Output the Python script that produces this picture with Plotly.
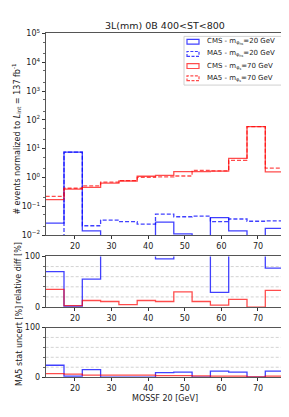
import plotly.graph_objects as go

edges = [12, 17, 22, 27, 32, 37, 42, 47, 52, 57, 62, 67, 72, 77]

cms_20 = [0.026, 7.6, 0.014, 0, 0, 0, 0.028, 0.011, 0, 0.040, 0.014, 0, 0.017]
ma5_20 = [0.008, 7.6, 0.021, 0.033, 0.029, 0.024, 0.053, 0.043, 0.045, 0.029, 0.036, 0.030, 0.031]
cms_70 = [0.17, 0.39, 0.45, 0.63, 0.75, 1.1, 1.17, 1.6, 1.6, 1.65, 4.6, 58, 1.56]
ma5_70 = [0.22, 0.42, 0.51, 0.69, 0.77, 1.0, 1.05, 1.12, 1.75, 1.7, 3.9, 58, 2.1]

reldiff_20 = [70, 2, 55, 200, 200, 200, 95, 200, 200, 29, 200, 200, 77]
reldiff_70 = [35, 3, 13, 11, 5, 13, 11, 30, 11, 4, 15, 0, 33]

uncert_20 = [24, 2, 15, 0, 0, 0, 9, 10, 0, 12, 10, 0, 12]
uncert_70 = [7, 6, 4, 4, 4, 4, 3, 3, 2.5, 2, 2, 0.5, 2]

log_ticks = [0.01, 0.1, 1, 10, 100, 1000, 10000, 100000]
log_ticktext = ["10<sup>−2</sup>", "10<sup>−1</sup>", "10<sup>0</sup>", "10<sup>1</sup>",
                "10<sup>2</sup>", "10<sup>3</sup>", "10<sup>4</sup>", "10<sup>5</sup>"]

labels = ["CMS - m<sub>φ<sub>hs</sub></sub>=20 GeV", "MA5 - m<sub>φ<sub>hs</sub></sub>=20 GeV",
          "CMS - m<sub>φ<sub>s</sub></sub>=70 GeV", "MA5 - m<sub>φ<sub>s</sub></sub>=70 GeV"]

BLUE = "rgba(0,0,255,0.75)"
RED = "rgba(255,0,0,0.7)"
DASH = "4px,2px"
FONT = "DejaVu Sans"
W, H = 289, 417


def px_x(p):
    return p / W


def px_y(p):
    return 1 - p / H


fig = go.Figure()


def step(vals, log=False):
    ys = [(v if v > 0 else 1e-9) if log else v for v in vals]
    return list(edges), ys + [ys[-1]]


series_main = [(cms_20, BLUE, "solid"), (ma5_20, BLUE, DASH), (cms_70, RED, "solid"), (ma5_70, RED, DASH)]
for vals, col, dash in series_main:
    x, y = step(vals, log=True)
    fig.add_trace(go.Scatter(x=x, y=y, mode="lines", line=dict(color=col, width=1.3, dash=dash, shape="hv"),
                             showlegend=False, xaxis="x", yaxis="y"))

for vals, col in [(reldiff_20, BLUE), (reldiff_70, RED)]:
    x, y = step(vals)
    fig.add_trace(go.Scatter(x=x, y=y, mode="lines", line=dict(color=col, width=1.3, shape="hv"),
                             showlegend=False, xaxis="x2", yaxis="y2"))

for vals, col in [(uncert_20, BLUE), (uncert_70, RED)]:
    x, y = step(vals)
    fig.add_trace(go.Scatter(x=x, y=y, mode="lines", line=dict(color=col, width=1.3, shape="hv"),
                             showlegend=False, xaxis="x3", yaxis="y3"))

xd = [px_x(37.7), px_x(275.6)]
axcommon = dict(range=[12, 77], showline=True, mirror=True, linecolor="#555", linewidth=1,
                ticks="outside", ticklen=3, tickcolor="#333", tickvals=[20, 30, 40, 50, 60, 70],
                tickfont=dict(size=8, family=FONT, color="#222"), showgrid=False, zeroline=False, domain=xd)

fig.update_layout(
    width=W, height=H, margin=dict(l=0, r=0, t=0, b=0),
    paper_bgcolor="white", plot_bgcolor="white",
    font=dict(family=FONT, size=8, color="#222"),
    xaxis=dict(**axcommon, anchor="y"),
    xaxis2=dict(**axcommon, anchor="y2"),
    xaxis3=dict(**axcommon, anchor="y3"),
    yaxis=dict(type="log", range=[-2, 5], domain=[px_y(227), px_y(20)], showline=True, mirror=True,
               linecolor="#555", ticks="outside", ticklen=3, tickcolor="#333",
               tickvals=log_ticks, ticktext=log_ticktext,
               minor=dict(ticks="outside", ticklen=2, tickcolor="#666", showgrid=False),
               tickfont=dict(size=8, family=FONT, color="#222"), showgrid=False, zeroline=False, anchor="x"),
    yaxis2=dict(range=[0, 100], domain=[px_y(301), px_y(249)], showline=True, mirror=True, linecolor="#555",
                ticks="outside", ticklen=3, tickcolor="#333", tickvals=[0, 100],
                minor=dict(ticks="outside", ticklen=2, tickcolor="#666", tickvals=[20, 40, 60, 80]),
                showgrid=False, zeroline=False, anchor="x2", tickfont=dict(size=8, family=FONT, color="#222")),
    yaxis3=dict(range=[0, 100], domain=[px_y(373), px_y(322)], showline=True, mirror=True, linecolor="#555",
                ticks="outside", ticklen=3, tickcolor="#333", tickvals=[0, 100],
                minor=dict(ticks="outside", ticklen=2, tickcolor="#666", tickvals=[20, 40, 60, 80]),
                showgrid=False, zeroline=False, anchor="x3", tickfont=dict(size=8, family=FONT, color="#222")),
    showlegend=False,
)

# dashed horizontal grid lines in lower panels
for yref, xref in [("y2", "x2"), ("y3", "x3")]:
    for g in [20, 40, 60, 80]:
        fig.add_shape(type="line", xref=xref, yref=yref, x0=12, x1=77, y0=g, y1=g,
                      line=dict(color="#c8c8c8", width=0.8, dash="3px,2px"), layer="below")

# custom legend with patch-like rectangles
fig.add_shape(type="rect", xref="paper", yref="paper", x0=px_x(176), x1=px_x(274), y0=px_y(73), y1=px_y(23),
              line=dict(color="#d0d0d0", width=1), fillcolor="white", layer="above")
row_y = [28.5, 41, 53.5, 66]
for (vals, col, dash), lab, ry in zip(series_main, labels, row_y):
    fig.add_shape(type="rect", xref="paper", yref="paper", x0=px_x(179), x1=px_x(191),
                  y0=px_y(ry + 2.5), y1=px_y(ry - 2.5),
                  line=dict(color=col, width=1.2, dash="3px,1.5px" if dash != "solid" else "solid"),
                  fillcolor="rgba(0,0,0,0)", layer="above")
    fig.add_annotation(xref="paper", yref="paper", x=px_x(197), y=px_y(ry), xanchor="left", yanchor="middle",
                       text=lab, showarrow=False, font=dict(family=FONT, size=7, color="#222"))

ann = [
    dict(text="3L(mm) 0B 400&lt;ST&lt;800", x=px_x(157), y=px_y(12), size=9.5, angle=0),
    dict(text="# events normalized to <i>L</i><sub>int</sub> = 137 fb<sup>-1</sup>", x=px_x(9), y=px_y(128),
         size=8, angle=-90),
    dict(text="relative diff [%]", x=px_x(11), y=px_y(266), size=8, angle=-90),
    dict(text="MA5 stat uncert [%]", x=px_x(11), y=px_y(341), size=8, angle=-90),
    dict(text="MOSSF 20 [GeV]", x=px_x(157), y=px_y(395), size=8, angle=0),
]
for a in ann:
    fig.add_annotation(xref="paper", yref="paper", showarrow=False, xanchor="center", yanchor="middle",
                       font=dict(family=FONT, size=a["size"], color="#222"),
                       text=a["text"], x=a["x"], y=a["y"], textangle=a["angle"])

fig.write_html("out.html")
